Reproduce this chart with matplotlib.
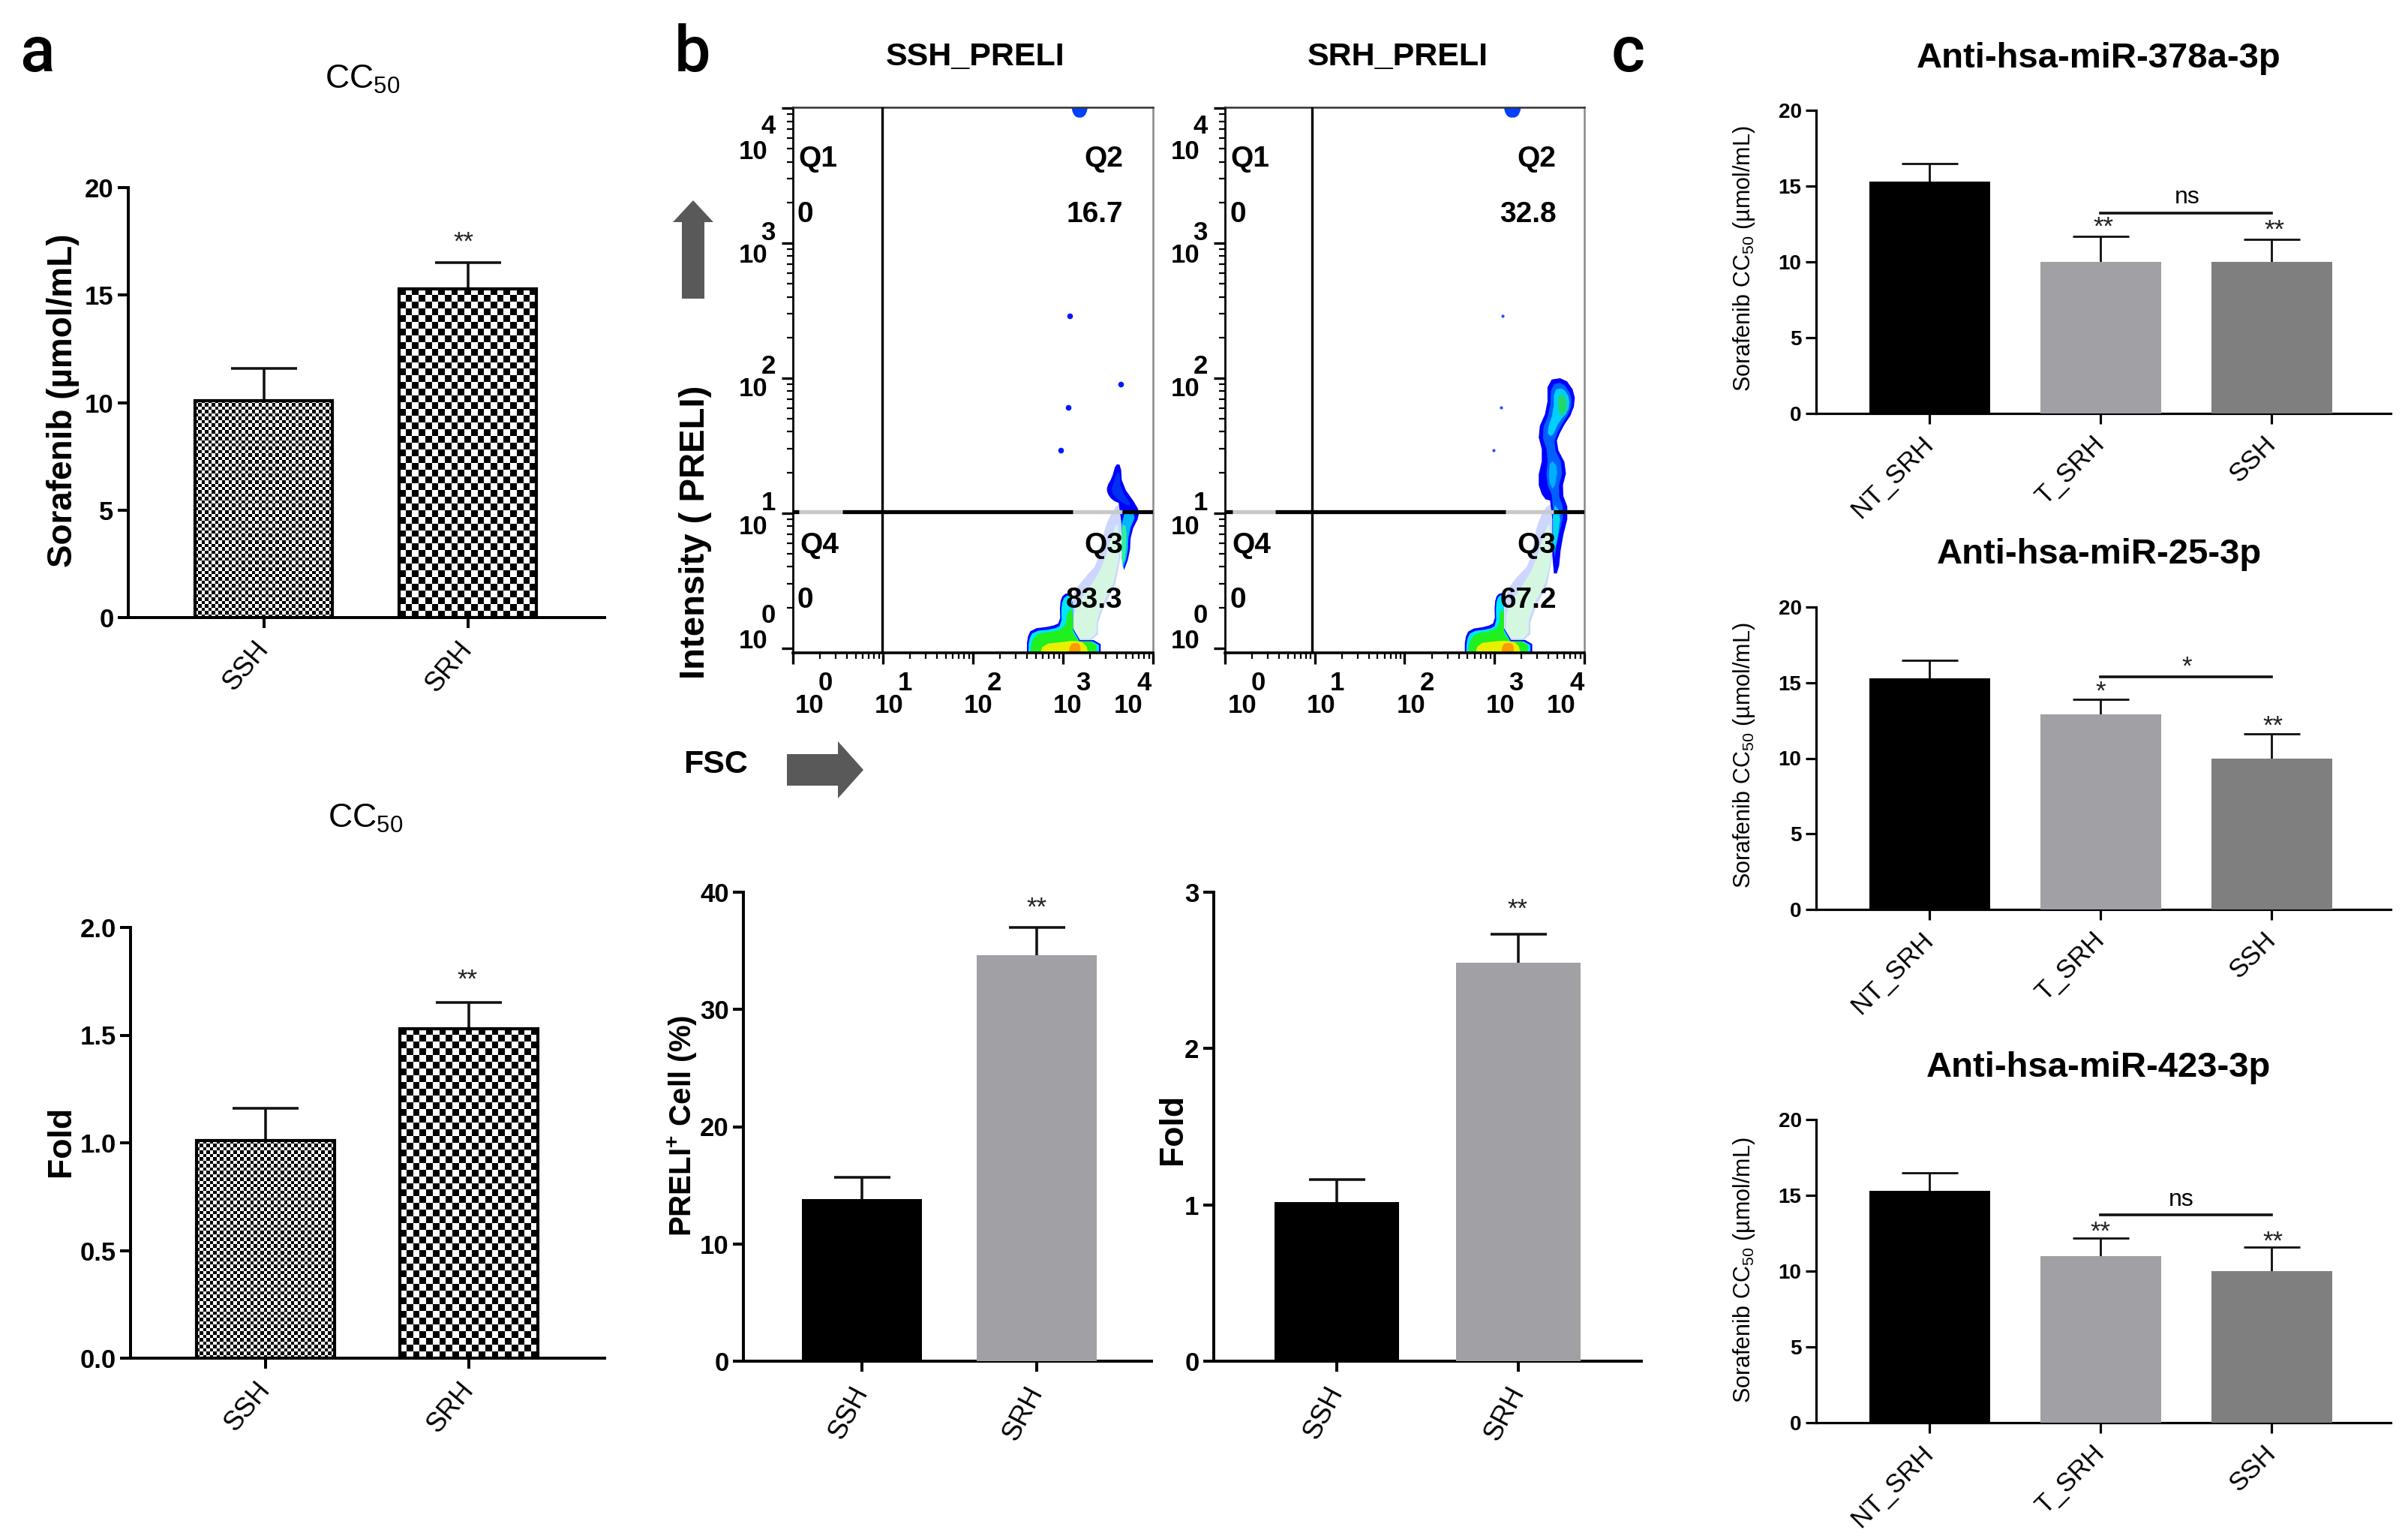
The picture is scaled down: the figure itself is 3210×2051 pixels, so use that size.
import numpy as np
import matplotlib
matplotlib.use('Agg')
import matplotlib.pyplot as plt
from matplotlib.patches import Polygon
from matplotlib.ticker import LogLocator, NullFormatter

plt.rcParams['font.family'] = ['Liberation Sans Narrow', 'Liberation Sans', 'DejaVu Sans']
plt.rcParams['mathtext.default'] = 'regular'

W, H = 3210, 2051

# bar data
cc50_groups = ['SSH', 'SRH']
cc50_values = [10.1, 15.3]
cc50_tops = [11.6, 16.5]
cc50_fold_values = [1.01, 1.53]
cc50_fold_tops = [1.16, 1.65]

preli_groups = ['SSH', 'SRH']
preli_cell_values = [13.8, 34.6]
preli_cell_tops = [15.7, 37.0]
preli_fold_values = [1.02, 2.55]
preli_fold_tops = [1.16, 2.73]

mir_groups = ['NT_SRH', 'T_SRH', 'SSH']
mir378_values = [15.3, 10.0, 10.0]
mir378_tops = [16.5, 11.7, 11.5]
mir25_values = [15.3, 12.9, 10.0]
mir25_tops = [16.5, 13.9, 11.6]
mir423_values = [15.3, 11.0, 10.0]
mir423_tops = [16.5, 12.2, 11.6]
mir_sig_levels = [13.2, 15.4, 13.7]

# flow plots, log10 units
ssh_dots = [(3.072, 2.458), (3.638, 1.954), (3.055, 1.780), (2.977, 1.467)]
srh_dots = [(3.09, 2.458), (3.07, 1.780), (2.99, 1.467)]
top_blob = [(3.09, 4.02), (3.11, 3.96), (3.15, 3.93), (3.22, 3.93), (3.26, 3.96), (3.28, 4.02)]
top_blob_srh = [(3.10, 4.02), (3.12, 3.96), (3.16, 3.93), (3.24, 3.93), (3.28, 3.96), (3.30, 4.02)]

ssh_layers = [
    ([(3.10, 0.06), (3.10, 0.40), (3.24, 0.52), (3.39, 0.63), (3.46, 0.89), (3.57, 1.04), (3.64, 1.07),
      (3.64, 0.54), (3.39, 0.23), (3.39, 0.06)], '#ccd6ff'),
    ([(3.12, 0.07), (3.12, 0.30), (3.30, 0.45), (3.45, 0.62), (3.55, 0.85), (3.62, 0.95), (3.62, 0.56),
      (3.38, 0.25), (3.37, 0.07)], '#d5f7e2'),
    ([(3.587, 1.365), (3.643, 1.356), (3.657, 1.208), (3.825, 1.05), (3.853, 0.985), (3.755, 0.856),
      (3.741, 0.689), (3.657, 0.541), (3.643, 1.069), (3.545, 1.096), (3.489, 1.152), (3.489, 1.198),
      (3.545, 1.263)], '#0000ff'),
    ([(3.60, 1.30), (3.63, 1.30), (3.64, 1.18), (3.78, 1.04), (3.62, 1.09), (3.53, 1.16), (3.57, 1.24)], '#0030f0'),
    ([(3.65, 1.03), (3.82, 1.00), (3.73, 0.86), (3.72, 0.69), (3.65, 0.56)], '#00b4ff'),
    ([(3.65, 0.92), (3.71, 0.90), (3.70, 0.68), (3.65, 0.60)], '#30f0a0'),
    ([(2.599, -0.06), (2.60, 0.07), (2.65, 0.143), (2.874, 0.161), (2.971, 0.189), (2.965, 0.33),
      (3.00, 0.40), (3.111, 0.41), (3.111, 0.059), (3.419, 0.059), (3.419, -0.06)], '#0000ff'),
    ([(2.615, -0.06), (2.62, 0.06), (2.67, 0.125), (2.89, 0.14), (2.985, 0.17), (2.98, 0.32), (3.02, 0.385),
      (3.111, 0.395), (3.111, 0.05), (3.40, 0.05), (3.40, -0.06)], '#00e6ff'),
    ([(2.635, -0.06), (2.65, 0.05), (2.72, 0.11), (2.92, 0.125), (3.03, 0.16), (3.05, 0.27), (3.111, 0.30),
      (3.111, 0.05), (3.37, 0.05), (3.37, -0.06)], '#20f020'),
    ([(2.74, -0.06), (2.78, 0.03), (3.00, 0.045), (3.111, 0.055), (3.25, 0.04), (3.29, -0.06)], '#e8f000'),
    ([(3.06, -0.06), (3.08, 0.03), (3.14, 0.04), (3.19, 0.03), (3.20, -0.06)], '#ff9a00'),
]

srh_layers = [
    ([(3.11, 0.06), (3.11, 0.40), (3.24, 0.52), (3.40, 0.63), (3.46, 0.89), (3.56, 1.04), (3.644, 1.07),
      (3.644, 0.54), (3.40, 0.23), (3.40, 0.06)], '#ccd6ff'),
    ([(3.13, 0.07), (3.13, 0.30), (3.30, 0.45), (3.45, 0.62), (3.55, 0.85), (3.63, 0.95), (3.63, 0.56),
      (3.38, 0.25), (3.38, 0.07)], '#d5f7e2'),
    ([(3.59, 1.985), (3.778, 2.004), (3.899, 1.889), (3.879, 1.756), (3.745, 1.622), (3.677, 1.508),
      (3.812, 1.336), (3.745, 1.164), (3.832, 1.011), (3.745, 0.782), (3.711, 0.553), (3.644, 0.553),
      (3.644, 1.088), (3.543, 1.107), (3.476, 1.24), (3.543, 1.431), (3.476, 1.603), (3.59, 1.775)], '#0000ff'),
    ([(3.63, 1.95), (3.76, 1.97), (3.86, 1.87), (3.85, 1.76), (3.72, 1.63), (3.65, 1.50), (3.77, 1.34),
      (3.70, 1.16), (3.78, 1.01), (3.70, 0.80), (3.66, 0.62), (3.66, 1.10), (3.57, 1.24), (3.60, 1.43),
      (3.52, 1.60), (3.62, 1.76)], '#0060ff'),
    ([(3.66, 1.91), (3.76, 1.93), (3.84, 1.85), (3.82, 1.75), (3.72, 1.68), (3.64, 1.56), (3.58, 1.60),
      (3.66, 1.76)], '#00d0ff'),
    ([(3.62, 1.40), (3.71, 1.34), (3.66, 1.16), (3.60, 1.24)], '#00b0ff'),
    ([(3.65, 1.08), (3.74, 1.00), (3.70, 0.80), (3.65, 0.68)], '#00d8f0'),
    ([(3.72, 1.89), (3.80, 1.86), (3.81, 1.76), (3.74, 1.71), (3.70, 1.79)], '#20d870'),
    ([(2.669, -0.06), (2.67, 0.07), (2.72, 0.14), (2.92, 0.16), (3.005, 0.19), (3.00, 0.33), (3.03, 0.40),
      (3.106, 0.41), (3.106, 0.06), (3.42, 0.06), (3.42, -0.06)], '#0000ff'),
    ([(2.685, -0.06), (2.69, 0.06), (2.74, 0.125), (2.94, 0.14), (3.02, 0.17), (3.015, 0.32), (3.04, 0.385),
      (3.106, 0.395), (3.106, 0.05), (3.40, 0.05), (3.40, -0.06)], '#00e6ff'),
    ([(2.705, -0.06), (2.72, 0.05), (2.79, 0.11), (2.96, 0.125), (3.05, 0.16), (3.06, 0.27), (3.106, 0.30),
      (3.106, 0.05), (3.37, 0.05), (3.37, -0.06)], '#20f020'),
    ([(2.78, -0.06), (2.82, 0.035), (3.00, 0.05), (3.12, 0.055), (3.26, 0.04), (3.30, -0.06)], '#e8f000'),
    ([(3.07, -0.06), (3.09, 0.03), (3.16, 0.04), (3.21, 0.03), (3.22, -0.06)], '#ff9a00'),
]

ssh_quadrants = ['Q1', '0', 'Q2', '16.7', 'Q4', '0', 'Q3', '83.3']
srh_quadrants = ['Q1', '0', 'Q2', '32.8', 'Q4', '0', 'Q3', '67.2']
flow_exponents = ['0', '1', '2', '3', '4']

fig = plt.figure(figsize=(W / 100, H / 100), dpi=100, facecolor='white')


def box_axes(left, right, top, bottom):
    return fig.add_axes([left / W, 1 - bottom / H, (right - left) / W, (bottom - top) / H])


def checker(cell, w, h):
    ny, nx = int(h / cell) + 1, int(w / cell) + 1
    yy, xx = np.indices((ny, nx))
    return (xx + yy) % 2


def rounded(pts, rounds=1):
    # corner cutting, so the hand read outlines look like density contours
    arr = np.array(pts)
    for _ in range(rounds):
        nxt = np.roll(arr, -1, axis=0)
        arr = np.column_stack([0.75 * arr + 0.25 * nxt, 0.25 * arr + 0.75 * nxt]).reshape(-1, 2)
    return arr


def bar_panel(box, centers, barw, names, values, tops, ymax, yticks, colors=None, checks=None,
              lw=3.0, tick_size=25, label_size=26, cap=32, rot=50):
    left, right, top, bottom = box
    pitch = centers[1] - centers[0]
    ax = box_axes(left, right, top, bottom)
    x = np.arange(len(values))
    xlim = ((left - centers[0]) / pitch, (right - centers[0]) / pitch)
    width = barw / pitch
    for i, v in enumerate(values):
        err = tops[i] - v
        eb = ax.errorbar(x[i], v, yerr=[[0], [err]], color='#111111', elinewidth=lw * 0.85, capsize=cap,
                         capthick=lw * 0.85, zorder=2)
        eb[1][0].set_visible(False)
        if checks is not None:
            b = ax.bar(x[i], v, width, facecolor='none', edgecolor='black', linewidth=lw, zorder=4)[0]
            bar_h = (bottom - top) * v / ymax
            img = ax.imshow(checker(checks[i], barw, bar_h), cmap='gray', aspect='auto', interpolation='nearest',
                            extent=[x[i] - width / 2, x[i] + width / 2, 0, v], zorder=3)
            img.set_clip_path(b)
        else:
            ax.bar(x[i], v, width, color=colors[i], zorder=3)
    ax.set_xlim(xlim)
    ax.set_ylim(0, ymax)
    for s in ['top', 'right']:
        ax.spines[s].set_visible(False)
    for s in ['left', 'bottom']:
        ax.spines[s].set_linewidth(lw * 0.95)
    ax.set_yticks(yticks)
    ax.set_xticks(x)
    ax.set_xticklabels(names, rotation=rot, ha='right', va='center', rotation_mode='anchor', fontsize=label_size)
    ax.tick_params(axis='y', length=10, width=lw * 0.95, labelsize=tick_size, pad=4)
    ax.tick_params(axis='x', length=10, width=lw * 0.95, pad=16)
    for t in ax.get_yticklabels():
        t.set_fontweight('bold')
    return ax


def flow_panel(box, layers, dots, blob, vgate, hgate_black, hgate_gray, dot_size, dot_color):
    ax = box_axes(*box)
    ax.set_xscale('log')
    ax.set_yscale('log')
    for pts, c in layers:
        arr = rounded(pts)
        ax.fill(10 ** arr[:, 0], 10 ** arr[:, 1], color=c, lw=0, zorder=2)
    arr = rounded(blob)
    ax.fill(10 ** arr[:, 0], 10 ** arr[:, 1], color='#0040ff', lw=0, zorder=2)
    arr = np.array(dots)
    ax.scatter(10 ** arr[:, 0], 10 ** arr[:, 1], s=dot_size, color=dot_color, lw=0, zorder=2)
    ax.axvline(10 ** vgate, color='black', lw=2.4, zorder=3)
    for a, b in hgate_gray:
        ax.plot([10 ** a, 10 ** b], [10 ** 1.01] * 2, color='#c8c8c8', lw=3.8, zorder=3, solid_capstyle='butt')
    for a, b in hgate_black:
        ax.plot([10 ** a, 10 ** b], [10 ** 1.01] * 2, color='black', lw=3.8, zorder=3, solid_capstyle='butt')
    ax.set_xlim(1, 1e4)
    ax.set_ylim(10 ** -0.035, 10 ** 4.006)
    for axis in [ax.xaxis, ax.yaxis]:
        axis.set_major_locator(LogLocator(base=10, numticks=6))
        axis.set_minor_locator(LogLocator(base=10, subs=np.arange(2, 10), numticks=6))
        axis.set_major_formatter(NullFormatter())
        axis.set_minor_formatter(NullFormatter())
    ax.tick_params(which='major', length=11, width=2.4)
    ax.tick_params(which='minor', length=6, width=1.6)
    ax.spines['top'].set_linewidth(1.8)
    ax.spines['top'].set_color('#333333')
    ax.spines['right'].set_linewidth(1.8)
    ax.spines['right'].set_color('#888888')
    ax.spines['left'].set_linewidth(2.0)
    ax.spines['bottom'].set_linewidth(2.6)
    return ax


# panel a
bar_panel((171, 806, 250, 823), [351.5, 623.5], 183, cc50_groups, cc50_values, cc50_tops, 20,
          [0, 5, 10, 15, 20], checks=[4.5, 9])
bar_panel((174, 806, 1236, 1810), [354, 625], 184, cc50_groups, cc50_fold_values, cc50_fold_tops, 2.0,
          [0, 0.5, 1.0, 1.5, 2.0], checks=[4.5, 9])

# panel b, flow
flow_panel((1057, 1537, 143, 870), ssh_layers, ssh_dots, top_blob, 0.99,
           [(0.0, 0.07), (0.55, 3.11), (3.66, 4.0)], [(0.07, 0.55), (3.11, 3.66)], 30, '#0018ff')
flow_panel((1633, 2112, 143, 870), srh_layers, srh_dots, top_blob_srh, 0.968,
           [(0.0, 0.08), (0.56, 3.12), (3.66, 4.0)], [(0.08, 0.56), (3.12, 3.66)], 9, '#3048ff')

# panel b, bars
bar_panel((991, 1535, 1189, 1814), [1148.5, 1382], 160, preli_groups, preli_cell_values, preli_cell_tops, 40,
          [0, 10, 20, 30, 40], colors=['black', '#a0a0a5'], cap=27, rot=62)
bar_panel((1618, 2188, 1189, 1814), [1782, 2023.5], 166, preli_groups, preli_fold_values, preli_fold_tops, 3,
          [0, 1, 2, 3], colors=['black', '#a0a0a5'], cap=27, rot=62)

# panel c
mir_colors = ['black', '#a0a0a5', '#7f7f7f']
mir_boxes = [(147, 551), (809, 1212), (1492, 1896)]
mir_series = [(mir378_values, mir378_tops), (mir25_values, mir25_tops), (mir423_values, mir423_tops)]
for (top, bottom), (vals, tops), level in zip(mir_boxes, mir_series, mir_sig_levels):
    ax = bar_panel((2421, 3187, top, bottom), [2572, 2800, 3028], 161, mir_groups, vals, tops, 20,
                   [0, 5, 10, 15, 20], colors=mir_colors, lw=2.4, tick_size=20, label_size=25, cap=27, rot=45)
    ax.plot([1, 2], [level, level], color='#111111', lw=2.6, zorder=5)

# overlay for free text and arrows
ov = fig.add_axes([0, 0, 1, 1], zorder=20)
ov.set_xlim(0, W)
ov.set_ylim(H, 0)
ov.axis('off')


def label(x, y, s, size, weight='normal', rot=0, family=None):
    kw = {}
    if family is not None:
        kw['family'] = family
    ov.text(x, y, s, fontsize=size, fontweight=weight, rotation=rot, ha='center', va='center', **kw)


regular = ['Liberation Sans', 'DejaVu Sans']
letters = ['Roboto', 'Liberation Sans']

label(49, 72, 'a', 62, 'medium', family=letters)
label(923, 72, 'b', 62, 'medium', family=letters)
label(2170, 72, 'c', 62, 'medium', family=letters)

label(483, 106, 'CC$_{50}$', 32)
label(487, 1091, 'CC$_{50}$', 32)
label(84, 534, 'Sorafenib (\u00b5mol/mL)', 33, 'bold', rot=90, family=regular)
label(82, 1521, 'Fold', 32, 'bold', rot=90, family=regular)
label(910, 1500, 'PRELI$^{+}$ Cell (%)', 29, 'bold', rot=90, family=regular)
label(1564, 1505, 'Fold', 32, 'bold', rot=90, family=regular)

label(1300, 76, 'SSH_PRELI', 31, 'bold')
label(1863, 76, 'SRH_PRELI', 31, 'bold')
label(927, 709, 'Intensity ( PRELI)', 34, 'bold', rot=90, family=regular)
label(954, 1019, 'FSC', 31, 'bold', family=regular)

label(2798, 78, 'Anti-hsa-miR-378a-3p', 34, 'bold', family=regular)
label(2798, 739, 'Anti-hsa-miR-25-3p', 34, 'bold', family=regular)
label(2798, 1423, 'Anti-hsa-miR-423-3p', 34, 'bold', family=regular)
for y in [345, 1007, 1693]:
    label(2325, y, 'Sorafenib CC$_{50}$ (\u00b5mol/mL)', 22, rot=90)

# quadrant labels
quad_y = [212, 286, 212, 286, 727, 800, 727, 800]
ssh_quad_x = [1090, 1073, 1471, 1459, 1092, 1073, 1471, 1459]
srh_quad_x = [1666, 1650, 2048, 2037, 1668, 1650, 2048, 2037]
for s, qx, qy in zip(ssh_quadrants, ssh_quad_x, quad_y):
    label(qx, qy, s, 28, 'bold')
for s, qx, qy in zip(srh_quadrants, srh_quad_x, quad_y):
    label(qx, qy, s, 28, 'bold')

# flow tick labels
ssh_tens_x = [1079, 1185, 1304, 1423, 1504]
srh_tens_x = [1656, 1761, 1881, 2000, 2081]
for exp, tx_a, tx_b in zip(flow_exponents, ssh_tens_x, srh_tens_x):
    for tx in (tx_a, tx_b):
        label(tx, 940, '10', 25, 'bold')
        label(tx + 21, 910, exp, 25, 'bold')
y_ten_y = [854, 702, 518, 341, 202]
y_exp_y = [821, 671, 489, 311, 169]
for exp, ty, ey in zip(flow_exponents, y_ten_y, y_exp_y):
    for tx in (1004, 1580):
        label(tx, ty, '10', 25, 'bold')
        label(tx + 20, ey, exp, 25, 'bold')

# stars and ns
stars = [(618, 323, '**'), (623, 1306, '**'), (1382, 1210, '**'), (2023, 1212, '**'),
         (2804, 303, '**'), (3032, 307, '**'), (2800, 922, '*'), (2915, 889, '*'), (3030, 968, '**'),
         (2800, 1642, '**'), (3030, 1655, '**')]
for sx, sy, s in stars:
    ov.text(sx, sy, s, fontsize=25, ha='center', va='center', color='#222222', family=regular)
label(2916, 263, 'ns', 23, family=regular)
label(2908, 1599, 'ns', 23, family=regular)

# arrows
arrow_up = [(924, 267), (951, 296), (939, 296), (939, 398), (909, 398), (909, 296), (897, 296)]
arrow_right = [(1151, 1026), (1117, 988), (1117, 1005), (1049, 1005), (1049, 1047), (1117, 1047), (1117, 1064)]
ov.add_patch(Polygon(arrow_up, closed=True, color='#595959', lw=0))
ov.add_patch(Polygon(arrow_right, closed=True, color='#595959', lw=0))

fig.savefig('out.png', dpi=100)
